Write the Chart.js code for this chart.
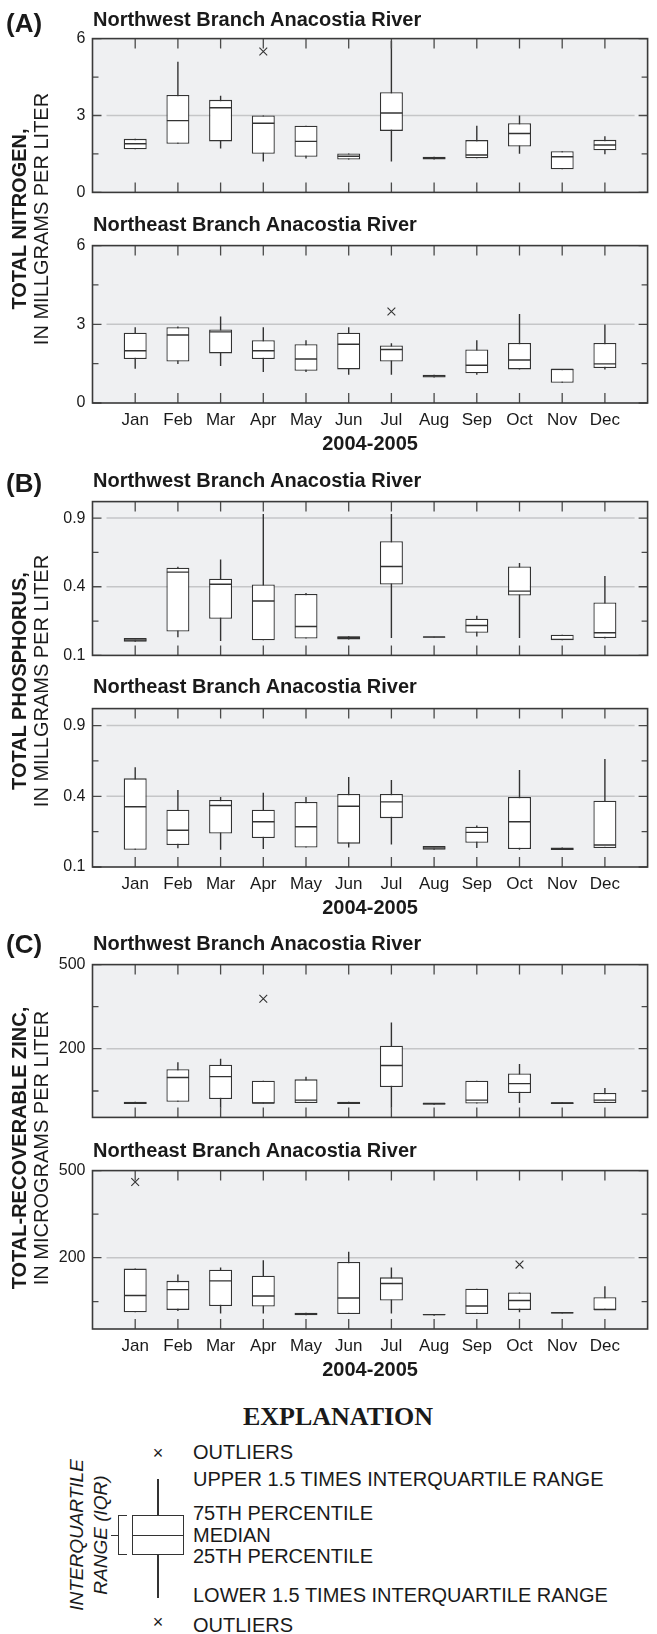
<!DOCTYPE html>
<html>
<head>
<meta charset="utf-8">
<title>Anacostia River water quality 2004-2005</title>
<style>
  body {
    margin: 0;
    width: 657px;
    height: 1634px;
    overflow: hidden;
    background: #ffffff;
    position: relative;
    font-family: 'Liberation Sans', Arial, sans-serif;
    color: #1a1a1a;
  }
  #plots canvas { position: absolute; left: 0; }
  .txt { position: absolute; white-space: nowrap; line-height: 1; }
  .letter { left: 6px; font-size: 26px; font-weight: bold; }
  .ptitle { left: 93px; font-size: 20px; font-weight: bold; }
  .ytitle {
    position: absolute;
    left: 30px;
    font-size: 20px;
    line-height: 22px;
    text-align: center;
    white-space: nowrap;
    transform: translate(-50%, -50%) rotate(-90deg);
  }
  .ytitle b { font-weight: bold; }
  .exhead { left: 238px; width: 200px; text-align: center; font-family: 'Liberation Serif', 'Times New Roman', serif; font-size: 26px; font-weight: bold; }
  .ex { left: 193px; font-size: 20px; }
  .mark { position: absolute; font-size: 18px; line-height: 1; transform: translate(-50%, -50%); }
  .ln { position: absolute; background: #333333; }
  .iqr {
    position: absolute;
    left: 89px;
    top: 1535px;
    font-size: 19px;
    font-style: italic;
    line-height: 24px;
    text-align: center;
    white-space: nowrap;
    transform: translate(-50%, -50%) rotate(-90deg);
  }
</style>
<script src="https://cdn.jsdelivr.net/npm/chart.js"></script>
</head>
<body>
<div id="plots"></div>

<div class="txt letter" style="top:10px">(A)</div>
<div class="txt ptitle" style="top:9px">Northwest Branch Anacostia River</div>
<div class="txt ptitle" style="top:214px">Northeast Branch Anacostia River</div>
<div class="ytitle" style="top:219px"><b>TOTAL NITROGEN,</b><br>IN MILLGRAMS PER LITER</div>

<div class="txt letter" style="top:470px">(B)</div>
<div class="txt ptitle" style="top:470px">Northwest Branch Anacostia River</div>
<div class="txt ptitle" style="top:676px">Northeast Branch Anacostia River</div>
<div class="ytitle" style="top:681px"><b>TOTAL PHOSPHORUS,</b><br>IN MILLGRAMS PER LITER</div>

<div class="txt letter" style="top:931px">(C)</div>
<div class="txt ptitle" style="top:933px">Northwest Branch Anacostia River</div>
<div class="txt ptitle" style="top:1140px">Northeast Branch Anacostia River</div>
<div class="ytitle" style="top:1148px"><b>TOTAL-RECOVERABLE ZINC,</b><br>IN MICROGRAMS PER LITER</div>

<!-- explanation key -->
<div class="txt exhead" style="top:1404px">EXPLANATION</div>
<div class="mark" style="left:158px; top:1453px">×</div>
<div class="mark" style="left:158px; top:1622px">×</div>
<div class="ln" style="left:157px; top:1479px; width:1.5px; height:36px"></div>
<div class="ln" style="left:157px; top:1554px; width:1.5px; height:44px"></div>
<div style="position:absolute; left:132px; top:1515px; width:52px; height:40px; box-sizing:border-box; border:1.5px solid #333; background:#fff"></div>
<div class="ln" style="left:132px; top:1534.5px; width:52px; height:1.5px"></div>
<div class="ln" style="left:117.5px; top:1515px; width:1.3px; height:40px"></div>
<div class="ln" style="left:117.5px; top:1515px; width:9px; height:1.3px"></div>
<div class="ln" style="left:117.5px; top:1553.7px; width:9px; height:1.3px"></div>
<div class="ln" style="left:111px; top:1534.5px; width:7px; height:1.3px"></div>
<div class="iqr">INTERQUARTILE<br>RANGE (IQR)</div>
<div class="txt ex" style="top:1442px">OUTLIERS</div>
<div class="txt ex" style="top:1469px">UPPER 1.5 TIMES INTERQUARTILE RANGE</div>
<div class="txt ex" style="top:1503px">75TH PERCENTILE</div>
<div class="txt ex" style="top:1525px">MEDIAN</div>
<div class="txt ex" style="top:1546px">25TH PERCENTILE</div>
<div class="txt ex" style="top:1585px">LOWER 1.5 TIMES INTERQUARTILE RANGE</div>
<div class="txt ex" style="top:1615px">OUTLIERS</div>

<script>
const months = ['Jan', 'Feb', 'Mar', 'Apr', 'May', 'Jun', 'Jul', 'Aug', 'Sep', 'Oct', 'Nov', 'Dec'];

// one row per month: [lower whisker, 25th pct, median, 75th pct, upper whisker]
const nitrogenNW = [
  [1.68, 1.68, 1.90, 2.09, 2.09],
  [1.90, 1.90, 2.80, 3.80, 5.10],
  [1.71, 1.99, 3.30, 3.61, 3.77],
  [1.21, 1.51, 2.70, 3.00, 3.00],
  [1.32, 1.39, 1.99, 2.60, 2.60],
  [1.28, 1.28, 1.41, 1.52, 1.52],
  [1.21, 2.40, 3.10, 3.91, 5.91],
  [1.28, 1.28, 1.33, 1.39, 1.39],
  [1.33, 1.33, 1.46, 2.04, 2.60],
  [1.51, 1.79, 2.30, 2.70, 3.00],
  [0.90, 0.90, 1.39, 1.61, 1.61],
  [1.49, 1.64, 1.85, 2.05, 2.19]
];
const nitrogenNE = [
  [1.31, 1.68, 1.99, 2.68, 2.89],
  [1.49, 1.58, 2.59, 2.89, 2.92],
  [1.41, 1.89, 2.71, 2.80, 3.30],
  [1.18, 1.68, 1.99, 2.39, 2.89],
  [1.18, 1.23, 1.68, 2.24, 2.39],
  [1.08, 1.28, 2.24, 2.68, 2.89],
  [1.08, 1.58, 2.04, 2.19, 2.28],
  [0.97, 0.97, 1.03, 1.08, 1.08],
  [1.08, 1.13, 1.44, 2.04, 2.39],
  [1.28, 1.28, 1.64, 2.29, 3.39],
  [0.77, 0.77, 1.28, 1.30, 1.30],
  [1.28, 1.33, 1.49, 2.29, 2.99]
];
const phosphorusNW = [
  [0.144, 0.144, 0.150, 0.157, 0.157],
  [0.160, 0.182, 0.490, 0.519, 0.525],
  [0.146, 0.235, 0.415, 0.448, 0.575],
  [0.149, 0.149, 0.321, 0.413, 0.936],
  [0.155, 0.155, 0.202, 0.359, 0.364],
  [0.152, 0.152, 0.159, 0.164, 0.164],
  [0.157, 0.413, 0.527, 0.709, 0.936],
  [0.159, 0.159, 0.161, 0.162, 0.162],
  [0.163, 0.177, 0.206, 0.235, 0.249],
  [0.157, 0.350, 0.375, 0.527, 0.551],
  [0.149, 0.149, 0.152, 0.169, 0.169],
  [0.155, 0.157, 0.177, 0.314, 0.465]
];
const phosphorusNE = [
  [0.155, 0.155, 0.343, 0.508, 0.582],
  [0.160, 0.172, 0.231, 0.328, 0.436],
  [0.155, 0.217, 0.350, 0.380, 0.396],
  [0.157, 0.199, 0.269, 0.328, 0.421],
  [0.163, 0.163, 0.246, 0.369, 0.396],
  [0.163, 0.177, 0.346, 0.413, 0.517],
  [0.174, 0.286, 0.369, 0.413, 0.498],
  [0.155, 0.155, 0.161, 0.168, 0.168],
  [0.161, 0.180, 0.222, 0.246, 0.252],
  [0.155, 0.157, 0.269, 0.396, 0.562],
  [0.154, 0.154, 0.157, 0.163, 0.163],
  [0.161, 0.161, 0.172, 0.375, 0.639]
];
const zincNW = [
  [76, 76, 78, 80, 80],
  [80, 80, 128, 147, 164],
  [70, 85, 130, 158, 173],
  [77, 77, 78, 121, 121],
  [78, 78, 83, 124, 130],
  [76, 76, 78, 80, 80],
  [70, 108, 156, 208, 279],
  [75, 75, 77, 78, 78],
  [77, 77, 83, 121, 121],
  [78, 96, 115, 137, 160],
  [76, 76, 78, 79, 79],
  [78, 78, 83, 96, 106]
];
const zincNE = [
  [81, 81, 112, 172, 172],
  [83, 85, 124, 143, 158],
  [79, 92, 143, 169, 175],
  [79, 91, 111, 155, 193],
  [76, 76, 78, 80, 80],
  [78, 78, 107, 189, 216],
  [79, 102, 137, 151, 175],
  [75, 76, 77, 78, 78],
  [78, 78, 92, 126, 126],
  [81, 85, 102, 118, 118],
  [79, 79, 80, 81, 81],
  [85, 85, 85.5, 108.5, 131]
];

// outliers as [month number, value]
const nitrogenNWOut = [[4, 5.5]];
const nitrogenNEOut = [[7, 3.49]];
const phosphorusNWOut = [];
const phosphorusNEOut = [];
const zincNWOut = [[4, 362]];
const zincNEOut = [[1, 453], [10, 182]];

// y axis ticks, which of them get a label, and the light reference lines
const nitrogenTicks = [0, 1.5, 3, 4.5, 6];
const nitrogenLabels = [0, 3, 6];
const nitrogenGrid = [3];
const phosphorusTicks = [0.1, 0.225, 0.4, 0.625, 0.9];
const phosphorusLabels = [0.1, 0.4, 0.9];
const phosphorusGrid = [0.4, 0.9];
const zincTicks = [100, 200, 333, 500];
const zincLabels = [200, 500];
const zincGrid = [200];

// square-root value axis (phosphorus and zinc panels)
class SqrtScale extends Chart.LinearScale {
  getPixelForValue(value) {
    if (value === null || value === undefined) return NaN;
    const lo = Math.sqrt(this.min), hi = Math.sqrt(this.max);
    return this.getPixelForDecimal((Math.sqrt(Math.max(value, 0)) - lo) / (hi - lo));
  }
  getValueForPixel(pixel) {
    const lo = Math.sqrt(this.min), hi = Math.sqrt(this.max);
    const s = lo + this.getDecimalForPixel(pixel) * (hi - lo);
    return s * s;
  }
}
SqrtScale.id = 'sqrt';
SqrtScale.defaults = Chart.LinearScale.defaults;
Chart.register(SqrtScale);

const INK = '#333333';
const tickFont = { family: "'Liberation Sans Narrow', 'Liberation Sans', sans-serif", size: 16 };

// background, reference lines, inward tick marks and frame
const panelDeco = {
  id: 'panelDeco',
  beforeDatasetsDraw(chart, args, opts) {
    const { ctx, chartArea: a, scales: { y } } = chart;
    ctx.save();
    ctx.fillStyle = '#eff0f2';
    ctx.fillRect(a.left, a.top, a.right - a.left, a.bottom - a.top);
    ctx.strokeStyle = '#c5c6c8';
    ctx.lineWidth = 1.5;
    opts.grid.forEach(v => {
      const py = y.getPixelForValue(v);
      ctx.beginPath();
      ctx.moveTo(a.left + 14, py);
      ctx.lineTo(a.right - 13, py);
      ctx.stroke();
    });
    ctx.restore();
  },
  afterDatasetsDraw(chart, args, opts) {
    const { ctx, chartArea: a, scales: { x, y } } = chart;
    ctx.save();
    ctx.strokeStyle = '#4a4a4a';
    ctx.lineWidth = 1.3;
    ctx.beginPath();
    x.ticks.forEach(t => {
      const px = x.getPixelForValue(t.value);
      ctx.moveTo(px, a.top); ctx.lineTo(px, a.top + 10);
      ctx.moveTo(px, a.bottom); ctx.lineTo(px, a.bottom - 10);
    });
    y.ticks.forEach(t => {
      const py = y.getPixelForValue(t.value);
      const len = opts.labels.includes(t.value) ? 9 : 6;
      ctx.moveTo(a.left, py); ctx.lineTo(a.left + len, py);
      ctx.moveTo(a.right, py); ctx.lineTo(a.right - len, py);
    });
    ctx.stroke();
    ctx.strokeStyle = '#3a3a3a';
    ctx.lineWidth = 1.6;
    ctx.strokeRect(a.left, a.top, a.right - a.left, a.bottom - a.top);
    ctx.restore();
  }
};

function boxPanel(top, plotH, rows, outliers, axisType, yMin, yMax, ticks, labels, grid, showMonths) {
  const padTop = 14;
  const axisH = showMonths ? 53 : 0;
  const padBottom = showMonths ? 2 : 12;
  const cv = document.createElement('canvas');
  cv.width = 660;
  cv.height = padTop + plotH + axisH + padBottom;
  cv.style.top = (top - padTop) + 'px';
  document.getElementById('plots').appendChild(cv);

  const whiskers = rows.map((r, i) => ({ x: i + 1, y: [r[0], r[4]] }));
  const boxes = rows.map((r, i) => ({ x: i + 1, y: [r[1], r[3]] }));
  const medians = rows.map((r, i) => ({ x: i + 1, y: r[2] }));
  const outs = outliers.map(o => ({ x: o[0], y: o[1] }));

  return new Chart(cv, {
    type: 'bar',
    data: {
      datasets: [
        {
          type: 'line', data: outs, order: 0, showLine: false,
          pointStyle: 'crossRot', pointRadius: 5.5, pointBorderWidth: 1.1,
          borderColor: INK, pointBorderColor: INK, backgroundColor: INK
        },
        {
          type: 'line', data: medians, order: 1, showLine: false,
          pointStyle: 'line', pointRadius: 11, pointBorderWidth: 1.4,
          borderColor: INK, pointBorderColor: INK
        },
        {
          data: boxes, order: 2, grouped: false, barThickness: 23,
          backgroundColor: '#ffffff', borderColor: INK, borderWidth: 1.3,
          borderSkipped: false, inflateAmount: 0
        },
        {
          data: whiskers, order: 3, grouped: false, barThickness: 1.4,
          backgroundColor: INK, borderWidth: 0, inflateAmount: 0
        }
      ]
    },
    options: {
      responsive: false,
      animation: false,
      devicePixelRatio: 1,
      events: [],
      layout: { padding: { top: padTop, right: 2, bottom: padBottom, left: 0 } },
      plugins: {
        legend: { display: false },
        tooltip: { enabled: false },
        panelDeco: { grid: grid, labels: labels }
      },
      scales: {
        x: {
          type: 'linear',
          min: 0,
          max: 13,
          offset: false,
          grid: { display: false, drawTicks: false },
          border: { display: false },
          afterBuildTicks: s => { s.ticks = months.map((m, i) => ({ value: i + 1 })); },
          afterFit: s => { s.height = axisH; },
          ticks: {
            display: showMonths,
            autoSkip: false,
            maxRotation: 0,
            padding: 7,
            color: '#1a1a1a',
            font: { family: "'Liberation Sans', Arial, sans-serif", size: 17 },
            callback: v => months[v - 1]
          },
          title: {
            display: showMonths,
            text: '2004-2005',
            color: '#1a1a1a',
            padding: { top: 0, bottom: 0 },
            font: { family: "'Liberation Sans', Arial, sans-serif", size: 20, weight: 'bold' }
          }
        },
        y: {
          type: axisType,
          min: yMin,
          max: yMax,
          bounds: 'data',
          grid: { display: false, drawTicks: false },
          border: { display: false },
          afterBuildTicks: s => { s.ticks = ticks.map(v => ({ value: v })); },
          afterFit: s => { s.width = 92.5; },
          ticks: {
            autoSkip: false,
            padding: 7,
            color: '#1a1a1a',
            font: tickFont,
            callback: v => labels.includes(v) ? String(v) : ''
          }
        }
      }
    },
    plugins: [panelDeco]
  });
}

boxPanel(36, 161, nitrogenNW, nitrogenNWOut, 'linear', 0, 6, nitrogenTicks, nitrogenLabels, nitrogenGrid, false);
boxPanel(243, 160, nitrogenNE, nitrogenNEOut, 'linear', 0, 6, nitrogenTicks, nitrogenLabels, nitrogenGrid, true);
boxPanel(499, 161, phosphorusNW, phosphorusNWOut, 'sqrt', 0.1, 1.05, phosphorusTicks, phosphorusLabels, phosphorusGrid, false);
boxPanel(706, 161, phosphorusNE, phosphorusNEOut, 'sqrt', 0.1, 1.05, phosphorusTicks, phosphorusLabels, phosphorusGrid, true);
boxPanel(962, 160, zincNW, zincNWOut, 'sqrt', 55, 500, zincTicks, zincLabels, zincGrid, false);
boxPanel(1168, 161, zincNE, zincNEOut, 'sqrt', 55, 500, zincTicks, zincLabels, zincGrid, true);
</script>
</body>
</html>
